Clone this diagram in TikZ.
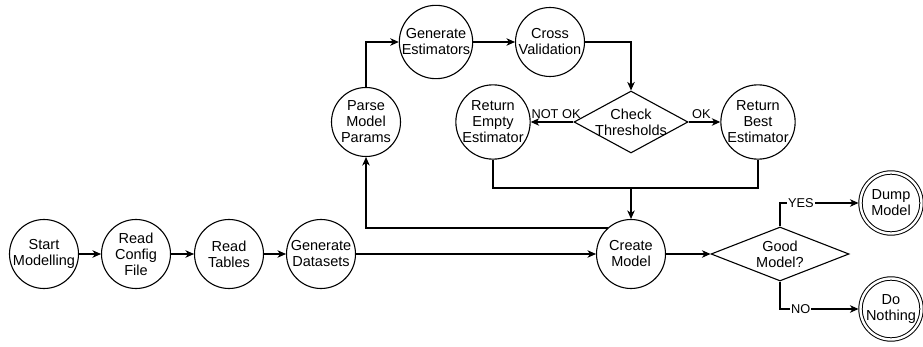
\documentclass[tikz,border=0pt]{standalone}
\usepackage{fontspec}
\setmainfont{Liberation Sans}
\usetikzlibrary{shapes.geometric,arrows.meta}

\tikzset{
  txt/.style={font=\fontsize{14.5}{16}\selectfont, align=center, inner sep=0pt},
  proc/.style={txt, draw, circle, line width=1.1pt, minimum size=69pt},
  term/.style={txt, draw, circle, line width=1pt, double, double distance=2.4pt, minimum size=61pt},
  cond/.style={draw, diamond, line width=1.1pt, inner sep=0pt},
  flow/.style={line width=1.1pt},
  arr/.style={flow, -{Stealth[length=8.5pt,width=7.5pt,inset=2.5pt]}},
  lab/.style={font=\fontsize{12.8}{14}\selectfont, inner sep=1pt},
  onlab/.style={lab, fill=white}
}

\begin{document}
\begin{tikzpicture}[x=1pt, y=-1pt]
  \useasboundingbox (0,0) rectangle (923,347);

  % main row
  \node[proc] (start)    at (44,254)  {Start\\Modelling};
  \node[proc] (config)   at (136,254) {Read\\Config\\File};
  \node[proc] (tables)   at (229,254) {Read\\Tables};
  \node[proc] (datasets) at (321,254) {Generate\\Datasets};
  \node[proc] (create)   at (631,254) {Create\\Model};
  \node[cond, minimum width=138pt, minimum height=54pt,
        label={[txt]center:Good\\Model?}] (good) at (780,254) {};
  \node[term] (dump)     at (891,203) {Dump\\Model};
  \node[term] (nothing)  at (891,309) {Do\\Nothing};

  % estimator loop
  \node[proc] (parse)    at (366,122) {Parse\\Model\\Params};
  \node[proc] (genest)   at (436,42)  {Generate\\Estimators};
  \node[proc] (cross)    at (550,42)  {Cross\\Validation};
  \node[cond, minimum width=114pt, minimum height=62pt,
        label={[txt]center:Check\\Thresholds}] (check) at (631,122) {};
  \node[proc] (empty)    at (493,122) {Return\\Empty\\Estimator};
  \node[proc] (best)     at (758,122) {Return\\Best\\Estimator};
  \coordinate (merge) at (631,188);

  % connectors
  \draw[arr] (start) -- (config);
  \draw[arr] (config) -- (tables);
  \draw[arr] (tables) -- (datasets);
  \draw[arr] (datasets) -- (create);
  \draw[arr] (create) -- (good);
  \draw[arr, shorten >=1.5pt] (good.north) |- node[onlab, pos=0.63] {YES} (dump);
  \draw[arr, shorten >=1.5pt] (good.south) |- node[onlab, pos=0.63] {NO} (nothing);

  \draw[arr] (create.132) -| (parse.south);
  \draw[arr] (parse.north) |- (genest.west);
  \draw[arr] (genest) -- (cross);
  \draw[arr] (cross.east) -| (check.north);
  \draw[arr] (check.west) -- node[lab, above=2pt, xshift=4pt] {NOT OK} (empty);
  \draw[arr] (check.east) -- node[lab, above=2pt, xshift=-3pt] {OK} (best);
  \draw[flow] (empty.south) |- (merge) -| (best.south);
  \draw[arr] (merge) -- (create.north);
\end{tikzpicture}
\end{document}
